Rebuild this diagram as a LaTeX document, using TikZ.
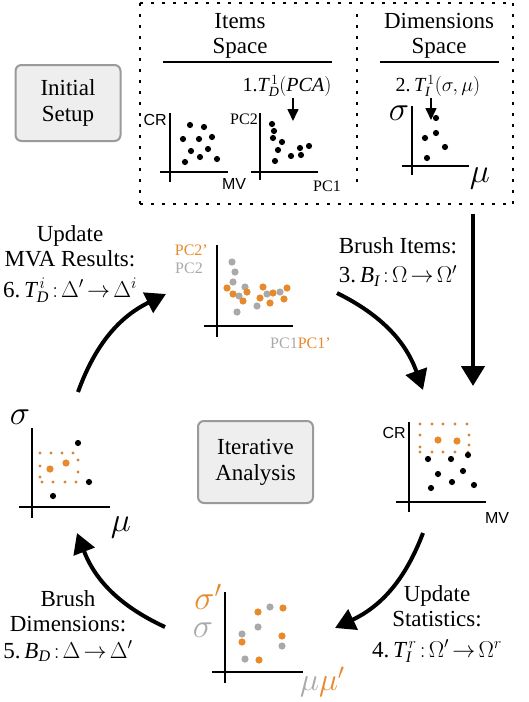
\RequirePackage{fix-cm}
\documentclass[tikz,border=0pt]{standalone}
\usepackage{fontspec}
\setmainfont{Liberation Serif}
\setsansfont{Liberation Sans}
\usetikzlibrary{arrows.meta}
\definecolor{orng}{HTML}{E8892B}
\definecolor{gry}{HTML}{A9A9A9}
\definecolor{boxfill}{HTML}{EEEEEE}
\definecolor{boxdraw}{HTML}{9A9A9A}
\newcommand{\tightmath}{\thickmuskip=2.5mu\relax\medmuskip=2mu\relax}
\tikzset{
  lbl/.style={font=\fontsize{23}{25}\selectfont\tightmath, align=center, inner sep=0pt},
  mlbl/.style={font=\fontsize{20}{24}\selectfont, inner sep=0pt},
  slbl/.style={font=\sffamily\fontsize{16}{18}\selectfont, inner sep=0pt},
  plbl/.style={font=\fontsize{16}{18}\selectfont, inner sep=0pt},
  glbl/.style={font=\fontsize{34}{36}\selectfont, inner sep=0pt},
  ax/.style={line width=1.3pt},
  cyc/.style={line width=4pt, -{Triangle[length=20pt,width=22pt]}},
  small/.style={line width=1.6pt, -{Triangle[length=12pt,width=11pt]}},
  setbox/.style={rounded corners=6pt, draw=boxdraw, line width=2pt, fill=boxfill,
    minimum width=105pt, minimum height=76pt, align=center,
    font=\fontsize{23}{26}\selectfont, inner sep=0pt},
  dotline/.style={line width=2.6pt, dash pattern=on 2.6pt off 8.4pt},
}
\newcommand{\myBdot}[1]{\fill[black] #1 circle (3.1pt);}
\newcommand{\myOdot}[1]{\fill[orng] #1 circle (3.6pt);}
\newcommand{\myGdot}[1]{\fill[gry] #1 circle (3.6pt);}
\newcommand{\mySdot}[1]{\fill[orng!80!gray] #1 circle (1.6pt);}
\begin{document}
\begin{tikzpicture}[x=1pt,y=-1pt]
\useasboundingbox (0,0) rectangle (529,702);

% ---------- dotted setup frame ----------
\draw[dotline] (140,3) -- (513,3);
\draw[dotline] (140,204) -- (513,204);
\draw[dotline] (140,3) -- (140,204);
\draw[dotline] (513,3) -- (513,204);
\draw[dotline] (357,14) -- (357,185);

\node[lbl] (items) at (240,36) {Items\\Space};
\node[lbl] (dims) at (439,36) {Dimensions\\Space};
\draw[line width=1.2pt] (163,62) -- (332,62);
\draw[line width=1.2pt] (380,62) -- (499,62);

\node[setbox] (init) at (68,103) {Initial\\Setup};

% T_D^1 label and arrow
\node[mlbl] (t1) at (287,86) {1.$\mathit{T}^{\,1}_{\mathit{D}}(\mathit{PCA})$};
\coordinate (t1a) at (293,98);
\coordinate (t1b) at (293,121);
\draw[small] (t1a) -- (t1b);

\node[mlbl] (t2) at (438,86) {2.$\,\mathit{T}^{\,1}_{\mathit{I}}(\sigma,\mu)$};
\coordinate (t2a) at (431,98);
\coordinate (t2b) at (431,120);
\draw[small] (t2a) -- (t2b);

% scatter 1 CR/MV
\draw[ax] (170,113) -- (170,182);
\draw[ax] (160,172) -- (228,172);
\node[slbl, anchor=east] (cr1) at (167,120) {CR};
\node[slbl] (mv1) at (234,184) {MV};
\foreach \p in {(190,125),(204,127),(183,139),(199,139),(212,137),(191,151),(208,149),(200,157),(217,159),(185,162)} {\myBdot{\p}}

% scatter 2 PC2/PC1
\draw[ax] (260,113) -- (260,180);
\draw[ax] (251,172) -- (318,172);
\node[plbl, anchor=east] (pc2a) at (258,119) {PC2};
\node[plbl] (pc1a) at (327,186) {PC1};
\foreach \p in {(272,124),(274,131),(273,138),(282,142),(278,150),(291,156),(300,148),(309,146),(301,155),(275,161)} {\myBdot{\p}}

% scatter 3 sigma/mu
\draw[ax] (412,106) -- (412,175);
\draw[ax] (402,166) -- (469,166);
\node[glbl] (sig1) at (399,113) {$\sigma$};
\node[glbl] (mu1) at (480,178) {$\mu$};
\foreach \p in {(436,118),(436,133),(425,138),(445,147),(427,158)} {\myBdot{\p}}

% big vertical arrow
\coordinate (va1) at (473,214);
\coordinate (va2) at (473,386);
\draw[line width=4.5pt, -{Triangle[length=20pt,width=23pt]}] (va1) -- (va2);

% ---------- cycle labels ----------
\node[lbl] (upd) at (70,264) {Update\\MVA Results:\\[6pt]6.$\,\mathit{T}^{\,i}_{\mathit{D}}:\Delta'\rightarrow\Delta^{i}$};
\node[lbl] (brushi) at (398,262) {Brush Items:\\[4pt]3.$\,\mathit{B}_{\mathit{I}}:\Omega\rightarrow\Omega'$};
\node[lbl] (brushd) at (68,626) {Brush\\Dimensions:\\[2pt]5.$\,\mathit{B}_{\mathit{D}}:\Delta\rightarrow\Delta'$};
\node[lbl] (updst) at (437,624) {Update\\Statistics:\\[6pt]4.$\,\mathit{T}^{\,r}_{\mathit{I}}:\Omega'\rightarrow\Omega^{r}$};

\node[setbox, minimum width=115pt, minimum height=82pt] (iter) at (255.5,462) {Iterative\\Analysis};

% ---------- cycle arrows ----------
\coordinate (a1s) at (78,392);  \coordinate (a1e) at (166,294);
\coordinate (a2s) at (337,293); \coordinate (a2e) at (423,390);
\coordinate (a3s) at (423,533); \coordinate (a3e) at (335,628);
\coordinate (a4s) at (165,627); \coordinate (a4e) at (77,533);
\draw[cyc] (a1s) to[bend left=22] (a1e);
\draw[cyc] (a2s) to[bend left=22] (a2e);
\draw[cyc] (a3s) to[bend left=22] (a3e);
\draw[cyc] (a4s) to[bend left=22] (a4e);

% ---------- top middle scatter ----------
\draw[ax] (217,245) -- (217,337);
\draw[ax] (204,326) -- (293,326);
\node[plbl, text=orng, anchor=east] (pc2o) at (208,250) {PC2'};
\node[plbl, text=gry, anchor=east] (pc2g) at (203,268) {PC2};
\node[plbl, anchor=west] (pc1) at (270,343) {\textcolor{gry}{PC1}\textcolor{orng}{PC1'}};
\foreach \p in {(232,262),(235,272),(233,282),(245,287),(239,296),(237,312),(257,306),(267,294),(280,292)} {\myGdot{\p}}
\foreach \p in {(227,288),(233,294),(247,292),(243,301),(263,287),(260,298),(270,303),(273,293),(287,288),(284,299)} {\myOdot{\p}}

% ---------- right scatter ----------
\draw[ax] (409,422) -- (409,512);
\draw[ax] (396,502) -- (486,502);
\node[slbl, anchor=east] (cr2) at (406,433) {CR};
\node[slbl] (mv2) at (497,518) {MV};
\foreach \p in {(420,424),(432,424),(443,424),(455,424),(467,424),(420,435),(420,447),(420,452),(432,452),(443,452),(455,452),(468,452),(469,435),(469,445)} {\mySdot{\p}}
\foreach \p in {(438,440),(457,441)} {\myOdot{\p}}
\foreach \p in {(428,459),(451,459),(468,455),(438,474),(463,471),(431,488),(452,482),(474,485)} {\myBdot{\p}}

% ---------- left scatter ----------
\draw[ax] (32,428) -- (32,518);
\draw[ax] (19,507) -- (110,507);
\node[glbl] (sig2) at (20,417) {$\sigma$};
\node[glbl] (mu2) at (121,527) {$\mu$};
\foreach \p in {(40,453),(51,453),(62,453),(73,453),(78,460),(78,472),(40,466),(40,477),(42,482),(53,482),(65,482),(76,482)} {\mySdot{\p}}
\foreach \p in {(50,469),(66,463)} {\myOdot{\p}}
\foreach \p in {(78,443),(89,482),(53,496)} {\myBdot{\p}}

% ---------- bottom scatter ----------
\draw[ax] (225,592) -- (225,683);
\draw[ax] (212,672) -- (303,672);
\node[glbl, text=orng] (sig3o) at (208,597) {$\sigma'$};
\node[glbl, text=gry] (sig3g) at (203,630) {$\sigma$};
\node[glbl, anchor=west, font=\fontsize{32}{34}\selectfont] (mu3) at (300,682) {\textcolor{gry}{$\mu$}\textcolor{orng}{$\mu'$}};
\foreach \p in {(270,607),(258,627),(242,634),(282,646),(245,659)} {\myGdot{\p}}
\foreach \p in {(258,612),(283,608),(242,642),(282,636),(259,660)} {\myOdot{\p}}

\end{tikzpicture}
\end{document}
